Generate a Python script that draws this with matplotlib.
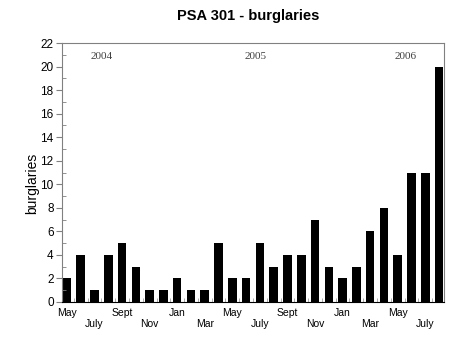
import matplotlib.pyplot as plt
from matplotlib.ticker import MultipleLocator

months = ["May", "June", "July", "Aug", "Sept", "Oct", "Nov", "Dec",
          "Jan", "Feb", "Mar", "Apr", "May", "June", "July", "Aug",
          "Sept", "Oct", "Nov", "Dec", "Jan", "Feb", "Mar", "Apr",
          "May", "June", "July", "Aug"]
burglaries = [2, 4, 1, 4, 5, 3, 1, 1, 2, 1, 1, 5, 2, 2,
              5, 3, 4, 4, 7, 3, 2, 3, 6, 8, 4, 11, 11, 20]
years = ["2004", "2005", "2006"]
year_pos = [2.5, 13.7, 24.6]

plt.rcParams["font.family"] = ["Liberation Sans", "DejaVu Sans"]

fig = plt.figure(figsize=(4.71, 3.53), dpi=100)
ax = fig.add_axes([0.1316, 0.1445, 0.8111, 0.7335])

x = list(range(len(burglaries)))
ax.bar(x, burglaries, width=0.62, color="black")

ax.set_xlim(-0.36, len(x) - 0.64)
ax.set_ylim(0, 22)
ax.yaxis.set_major_locator(MultipleLocator(2))
ax.yaxis.set_minor_locator(MultipleLocator(1))
ax.tick_params(axis="y", which="major", direction="out", length=4,
               color="#808080", labelsize=8.5, pad=2)
ax.tick_params(axis="y", which="minor", direction="in", length=3,
               color="#808080")

# labels every other month, alternating rows
ticks = x[::2]
labels = [m if k % 2 == 0 else "\n" + m for k, m in enumerate(months[::2])]
ax.set_xticks(ticks)
ax.set_xticklabels(labels, fontsize=7.5, linespacing=1.2)
ax.tick_params(axis="x", which="major", length=0, pad=4)
ax.set_xticks([i + 0.5 for i in x[:-1]], minor=True)
ax.tick_params(axis="x", which="minor", direction="in", length=3,
               color="#a0a0a0")

for side in ["left", "top", "right"]:
    ax.spines[side].set_color("#808080")
ax.spines["bottom"].set_color("black")

for yr, pos in zip(years, year_pos):
    ax.text(pos, 20.9, yr, ha="center", va="center", fontsize=8,
            family="Liberation Serif", color="#404040")

ax.set_ylabel("burglaries", fontsize=10)
ax.yaxis.set_label_coords(-0.06, 0.46)
fig.text(0.5276, 0.955, "PSA 301 - burglaries", ha="center", va="center",
         fontsize=10.5, fontweight="bold")

fig.savefig("out.png", dpi=100)
